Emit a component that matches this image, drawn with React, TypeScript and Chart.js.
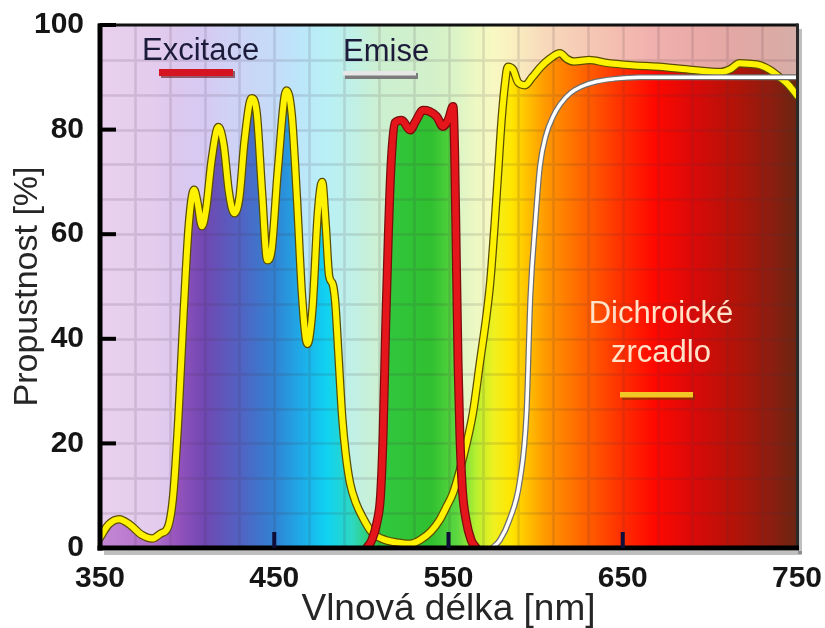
import React, { useEffect, useRef } from "react";
import { Chart, registerables } from "chart.js";

Chart.register(...registerables);

const FONT = '"Liberation Sans", Arial, Helvetica, sans-serif';

// ---- axis ticks ----
const X_TICKS = [350, 450, 550, 650, 750];
const Y_TICKS = [0, 20, 40, 60, 80, 100];

// ---- Dichroické zrcadlo (yellow) ----
const DICHROIC_NM = [
  350, 355, 361, 367, 374, 380, 385, 389, 392, 395, 398, 401, 404, 406, 408.5, 411, 414, 418, 421, 424,
  427, 430, 433, 437, 440, 443, 446, 448.5, 452, 457, 460, 463, 466, 469, 472, 475, 477.5, 479.5, 481.5, 483.5,
  485, 487, 489, 491, 493.5, 497, 500.5, 506, 514, 522, 528, 534, 540, 545, 549, 552.6, 558, 564, 568, 572,
  574, 576.5, 578.5, 580.5, 582.5, 584, 587, 590, 594, 598, 603, 608, 614, 618, 622, 631, 640, 655, 671, 690,
  706, 712, 717, 722, 729, 735, 740, 745, 750,
];
const DICHROIC_PCT = [
  2, 4.5, 5.5, 4.5, 2.5, 1.8, 2.8, 4, 10, 25, 45, 62, 68.5, 66, 61.5, 65, 74, 80.5, 77, 68,
  64, 67, 78, 86, 83, 68, 55, 57, 72, 87.5, 83, 67, 48, 39, 46, 64, 70, 62, 52, 50.5,
  47, 36, 25, 18, 12.4, 8.5, 6, 3, 1.5, 1, 0.8, 1.6, 3.2, 5.4, 8, 10.5, 16.8, 25.8, 35.4, 45,
  51, 62, 72, 82, 89, 92, 91.5, 89, 88.5, 90, 92, 93.5, 94.6, 93.5, 93, 93.3, 92.8, 92.3, 92, 91.4,
  91, 91.6, 92.7, 92.6, 92.3, 91.3, 90, 88.6, 86.5,
];

// ---- Excitace (red) ----
const EXCITACE_NM = [
  503, 506, 509, 511, 512.5, 514, 515.5, 517, 519.3, 523.2, 528, 531, 535.4, 539, 543.2, 546.8, 550, 552.6, 553.5, 554.5,
  555.5, 556.5, 558, 560, 563, 566,
];
const EXCITACE_PCT = [
  0, 1.5, 5, 10, 22, 43, 60, 73, 81.3, 81.8, 79.9, 81.5, 83.7, 83.5, 82.5, 80.6, 82, 84.4, 76, 55,
  35, 22, 11, 5.5, 1.5, 0,
];

// ---- Emise (white) ----
const EMISE_NM = [575, 579.5, 585, 591, 594.8, 597, 600, 602.5, 606, 610, 614, 620, 626, 635, 645, 660, 700, 750];
const EMISE_PCT = [0, 1.5, 5.4, 13, 26, 48, 63, 73, 79, 82.5, 84.8, 87, 88.2, 89.2, 89.7, 90, 90, 90];

// ---- texts ----
const LEGEND_EXCITACE = "Excitace";
const LEGEND_EMISE = "Emise";
const MIRROR_LINES = ["Dichroické", "zrcadlo"];
const X_TITLE = "Vlnová délka [nm]";
const Y_TITLE = "Propustnost [%]";

// ---- style: spectrum colours [nm, saturated, pale] ----
const SPECTRUM: [number, string, string][] = [
  [350, "#c488d4", "#e8d0ee"],
  [380, "#b472cc", "#e4cced"],
  [395, "#9452bc", "#dcc8ee"],
  [410, "#7048b2", "#d6caf2"],
  [430, "#5262c2", "#cdd4f6"],
  [450, "#3282d2", "#c4dcf8"],
  [465, "#1eaae8", "#bce6fa"],
  [480, "#10d2f2", "#b8f0f6"],
  [495, "#2ed8c0", "#c0f0e6"],
  [510, "#30c840", "#ccf0d0"],
  [540, "#30c030", "#d2f0ca"],
  [555, "#5cd840", "#dcf4c6"],
  [566, "#b8f030", "#eef8c2"],
  [576, "#f0f020", "#f8f8c2"],
  [586, "#ffe600", "#faf0c0"],
  [596, "#ffbe00", "#f8e4be"],
  [606, "#ff9800", "#f8d8ba"],
  [625, "#ff6a00", "#f6ccb6"],
  [648, "#ff3200", "#f4bcb0"],
  [668, "#ff0800", "#f0b0ae"],
  [692, "#d80a08", "#eaaaa8"],
  [716, "#b01408", "#e2a8a4"],
  [736, "#8a1e10", "#dcaaa4"],
  [750, "#6a2612", "#d6aea8"],
];

const toPoints = (xs: number[], ys: number[]) => xs.map((x, i) => ({ x, y: ys[i] }));

function spectrumGradient(chart: any, which: 1 | 2) {
  const xs = chart.scales.x;
  const x0 = xs.getPixelForValue(xs.min);
  const x1 = xs.getPixelForValue(xs.max);
  const g = chart.ctx.createLinearGradient(x0, 0, x1, 0);
  for (const s of SPECTRUM) g.addColorStop((s[0] - xs.min) / (xs.max - xs.min), s[which]);
  return g;
}

const spectrumFill = (ctx: any) => {
  const chart = ctx.chart;
  if (!chart.chartArea || !chart.scales.x) return "rgba(0,0,0,0)";
  return spectrumGradient(chart, 1);
};

const decorPlugin = {
  id: "decor",
  beforeDraw(chart: any) {
    const { ctx, chartArea: a } = chart;
    ctx.save();
    ctx.fillStyle = "#ffffff";
    ctx.fillRect(0, 0, chart.width, chart.height);
    ctx.fillStyle = spectrumGradient(chart, 2);
    ctx.fillRect(a.left, a.top, a.right - a.left, a.bottom - a.top);
    ctx.restore();
  },
  beforeDatasetsDraw(chart: any) {
    const { ctx, chartArea: a, scales } = chart;
    const xs = scales.x;
    const ys = scales.y;
    ctx.save();
    ctx.beginPath();
    ctx.rect(a.left, a.top, a.right - a.left, a.bottom - a.top);
    ctx.clip();
    ctx.strokeStyle = "rgba(70,50,70,0.14)";
    ctx.lineWidth = 2.5;
    ctx.beginPath();
    for (let nm = xs.min + 20; nm < xs.max; nm += 20) {
      const px = Math.round(xs.getPixelForValue(nm)) + 0.5;
      ctx.moveTo(px, a.top);
      ctx.lineTo(px, a.bottom);
    }
    for (let k = 1; k < 15; k++) {
      const py = Math.round(ys.getPixelForValue(ys.max - (k * (ys.max - ys.min)) / 15)) + 0.5;
      ctx.moveTo(a.left, py);
      ctx.lineTo(a.right, py);
    }
    ctx.stroke();
    ctx.restore();
  },
  afterDatasetsDraw(chart: any) {
    const { ctx, chartArea: a, scales } = chart;
    const xs = scales.x;
    const ys = scales.y;
    const l = a.left, r = a.right, t = a.top, b = a.bottom;
    ctx.save();
    // shadow
    ctx.fillStyle = "rgba(0,0,0,0.25)";
    ctx.fillRect(r + 1, t + 4, 4, b - t + 2);
    ctx.fillRect(l + 4, b + 3, r - l + 1, 4);
    // frame
    ctx.fillStyle = "#111111";
    ctx.fillRect(l - 2, t - 1.5, r - l + 3, 3);
    ctx.fillStyle = "#2a2a2a";
    ctx.fillRect(r - 1, t - 1.5, 3, b - t + 3);
    ctx.fillStyle = "#000000";
    ctx.fillRect(l - 2.5, t - 1.5, 5, b - t + 4);
    ctx.fillRect(l - 2.5, b - 2.5, r - l + 4.5, 5);
    // tick marks
    ctx.fillStyle = "#000000";
    for (const v of Y_TICKS) {
      if (v === ys.min) continue;
      const py = ys.getPixelForValue(v);
      ctx.fillRect(l, py - 2, 16, 4);
    }
    ctx.fillStyle = "#0e0e38";
    for (const v of X_TICKS) {
      if (v === xs.min || v === xs.max) continue;
      const px = xs.getPixelForValue(v);
      ctx.fillRect(px - 2, b - 16, 4, 16);
    }
    // legend texts
    ctx.font = `31px ${FONT}`;
    ctx.textAlign = "left";
    ctx.textBaseline = "alphabetic";
    ctx.fillStyle = "#1c1c3a";
    ctx.fillText(LEGEND_EXCITACE, l + 42, t + 35);
    ctx.fillText(LEGEND_EMISE, l + 243, t + 36);
    // excitace bar
    ctx.fillStyle = "rgba(90,0,0,0.55)";
    ctx.fillRect(l + 61, t + 46, 74, 7);
    ctx.fillStyle = "#d41420";
    ctx.fillRect(l + 59, t + 44, 74, 7);
    // emise bar
    ctx.fillStyle = "#7c7c7c";
    ctx.fillRect(l + 245, t + 48, 73, 6);
    ctx.fillStyle = "#e6e6e6";
    ctx.fillRect(l + 243, t + 46, 73, 4.5);
    // mirror label
    ctx.textAlign = "center";
    ctx.fillStyle = "#ffe2c8";
    ctx.fillText(MIRROR_LINES[0], 661, 323);
    ctx.fillText(MIRROR_LINES[1], 661, 362);
    ctx.fillStyle = "rgba(120,50,0,0.6)";
    ctx.fillRect(622, 394, 73, 6);
    ctx.fillStyle = "#f2c624";
    ctx.fillRect(620, 392, 73, 5.5);
    ctx.restore();
  },
};

const lineCommon = {
  pointRadius: 0,
  pointHoverRadius: 0,
  cubicInterpolationMode: "monotone" as const,
  borderJoinStyle: "round" as const,
  borderCapStyle: "round" as const,
};

export default function App() {
  const ref = useRef<HTMLCanvasElement>(null);

  useEffect(() => {
    const canvas = ref.current;
    if (!canvas) return;
    const red = toPoints(EXCITACE_NM, EXCITACE_PCT);
    const white = toPoints(EMISE_NM, EMISE_PCT);
    const yellow = toPoints(DICHROIC_NM, DICHROIC_PCT);

    const chart = new Chart(canvas, {
      type: "line",
      data: {
        datasets: [
          { label: LEGEND_EXCITACE, data: red, borderColor: "#e4161c", borderWidth: 6.5, fill: false, ...lineCommon },
          { label: LEGEND_EXCITACE + " (outline)", data: red, borderColor: "#7a0c0c", borderWidth: 9, fill: "origin", backgroundColor: spectrumFill, ...lineCommon },
          { label: LEGEND_EMISE, data: white, borderColor: "#ffffff", borderWidth: 3.5, fill: false, ...lineCommon },
          { label: LEGEND_EMISE + " (outline)", data: white, borderColor: "#6e6e6e", borderWidth: 6, fill: "origin", backgroundColor: spectrumFill, ...lineCommon },
          { label: MIRROR_LINES.join(" "), data: yellow, borderColor: "#fff200", borderWidth: 6, fill: false, ...lineCommon },
          { label: MIRROR_LINES.join(" ") + " (outline)", data: yellow, borderColor: "#5a4e00", borderWidth: 8.5, fill: "origin", backgroundColor: spectrumFill, ...lineCommon },
        ],
      } as any,
      options: {
        responsive: false,
        animation: false,
        devicePixelRatio: 1,
        layout: { padding: { top: 25, right: 28, left: 0, bottom: 0 }, autoPadding: false },
        plugins: {
          legend: { display: false },
          tooltip: { enabled: false },
          filler: { drawTime: "beforeDatasetsDraw" },
        } as any,
        scales: {
          x: {
            type: "linear",
            min: X_TICKS[0],
            max: X_TICKS[X_TICKS.length - 1],
            grid: { display: false },
            border: { display: false },
            afterFit: (s: any) => {
              s.height = 80;
              s.paddingLeft = 0;
              s.paddingRight = 0;
            },
            afterBuildTicks: (s: any) => {
              s.ticks = X_TICKS.map((v) => ({ value: v }));
            },
            ticks: {
              autoSkip: false,
              maxRotation: 0,
              padding: 5,
              color: "#151515",
              font: { family: FONT, size: 30, weight: "bold" },
            },
            title: {
              display: true,
              text: X_TITLE,
              color: "#262626",
              font: { family: FONT, size: 37, lineHeight: 1.0 },
              padding: { top: 0, bottom: 0 },
            },
          },
          y: {
            type: "linear",
            min: Y_TICKS[0],
            max: Y_TICKS[Y_TICKS.length - 1],
            grid: { display: false },
            border: { display: false },
            afterFit: (s: any) => {
              s.width = 100;
              s.paddingTop = 0;
              s.paddingBottom = 0;
            },
            afterBuildTicks: (s: any) => {
              s.ticks = Y_TICKS.map((v) => ({ value: v }));
            },
            ticks: {
              padding: 8,
              color: "#151515",
              font: { family: FONT, size: 30, weight: "bold" },
            },
            title: {
              display: true,
              text: Y_TITLE,
              color: "#262626",
              font: { family: FONT, size: 34, lineHeight: 1.1 },
              padding: { top: 9, bottom: 0 },
            },
          },
        },
      } as any,
      plugins: [decorPlugin],
    });
    return () => chart.destroy();
  }, []);

  return (
    <div style={{ position: "absolute", left: 0, top: 0, width: 825, height: 628, background: "#ffffff" }}>
      <canvas ref={ref} width={825} height={628} style={{ display: "block", width: 825, height: 628 }} />
    </div>
  );
}
